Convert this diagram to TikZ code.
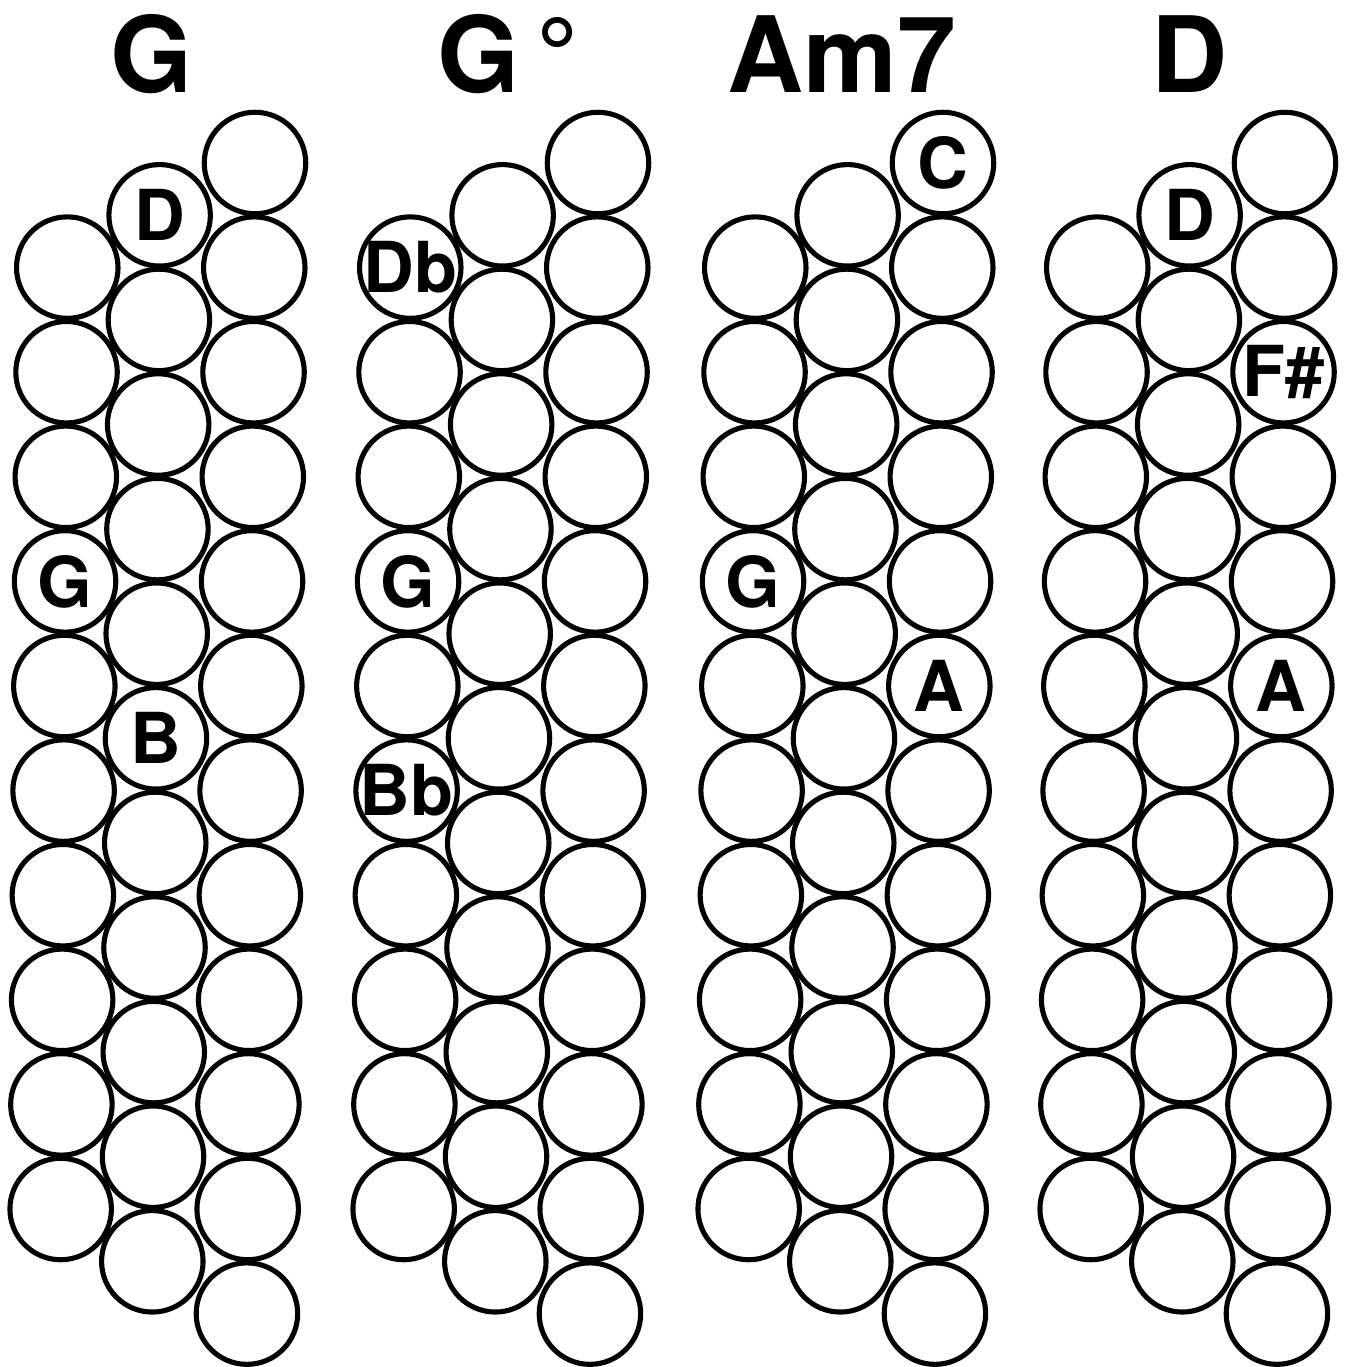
\documentclass[tikz,border=0pt]{standalone}
\usepackage{fontspec}
\setmainfont{TeX Gyre Heros}
\usetikzlibrary{positioning}
\newcommand{\chordfont}{\fontsize{60}{60}\selectfont\bfseries}
\newcommand{\notefont}{\fontsize{40}{40}\selectfont\bfseries}
\tikzset{
  button/.style={circle, draw=black, line width=2.9pt, minimum size=2.03cm, inner sep=0pt},
  note/.style={font=\notefont, inner sep=0pt},
  chord/.style={font=\chordfont, anchor=base, inner sep=0pt}
}
% #1 = name prefix, #2 = x offset of the keyboard
\newcommand{\keyboard}[2]{%
  \foreach \k in {2,...,11} {
    \pgfmathsetmacro{\yy}{163+(\k-1)*104.6}
    \node[button] (#1-l\k) at ({#2+68-0.007*(\yy-163)}, \yy) {};
  }
  \foreach \k in {1,...,11} {
    \pgfmathsetmacro{\yy}{163+(\k-0.5)*104.6}
    \node[button] (#1-m\k) at ({#2+160-0.007*(\yy-163)}, \yy) {};
  }
  \foreach \k in {1,...,12} {
    \pgfmathsetmacro{\yy}{163+(\k-1)*104.6}
    \node[button] (#1-r\k) at ({#2+255-0.007*(\yy-163)}, \yy) {};
  }%
}

\begin{document}
\begin{tikzpicture}[x=0.02cm, y=-0.02cm]
  \useasboundingbox (0,0) rectangle (1346,1367);

  % chord names
  \node[chord] (t-G) at (152,92) {G};
  \node[chord] (t-Gdim) at (508,92) {G\,°};
  \node[chord] (t-Am) at (842,92) {Am7};
  \node[chord] (t-D) at (1190,92) {D};

  % keyboards
  \keyboard{G}{0}
  \keyboard{Gdim}{343}
  \keyboard{Am}{688}
  \keyboard{D}{1030}

  % G
  \node[note] (G-n1) at (G-m1) {D};
  \node[note] (G-n2) at (G-l5) {G};
  \node[note] (G-n3) at (G-m6) {B};

  % G dim
  \node[note] (Gdim-n1) at (Gdim-l2) {Db};
  \node[note] (Gdim-n2) at (Gdim-l5) {G};
  \node[note] (Gdim-n3) at (Gdim-l7) {Bb};

  % Am7
  \node[note] (Am-n1) at (Am-r1) {C};
  \node[note] (Am-n2) at (Am-l5) {G};
  \node[note] (Am-n3) at (Am-r6) {A};

  % D
  \node[note] (D-n1) at (D-m1) {D};
  \node[note] (D-n2) at (D-r3) {F\#};
  \node[note] (D-n3) at (D-r6) {A};
\end{tikzpicture}
\end{document}
